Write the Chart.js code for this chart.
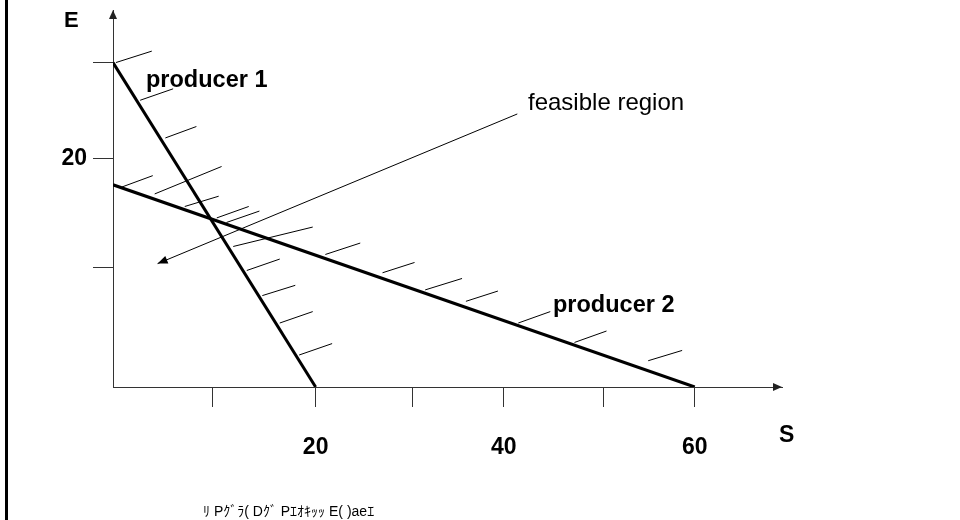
<!DOCTYPE html>
<html>
<head>
<meta charset="utf-8">
<script src="https://cdn.jsdelivr.net/npm/chart.js@4.4.0/dist/chart.umd.min.js"></script>
<style>
  html, body { margin: 0; padding: 0; background: #fff; }
  #wrap { position: relative; width: 960px; height: 520px; }
  #wrap::before { content: ""; position: absolute; left: 5px; top: 0; width: 3px; height: 520px; background: #000; }
</style>
</head>
<body>
<div id="wrap"><canvas id="myChart"></canvas></div>
<script>
// axis ticks (S horizontal, E vertical)
const xTickValues = [10.3, 20.9, 30.9, 40.3, 50.6, 60];
const xTickLabels = ["", "20", "", "40", "", "60"];
const yTickValues = [10.5, 20, 28.4];
const yTickLabels = ["", "20", ""];

// constraint lines [S, E]
const producer1 = [[0, 28.4], [20.9, 0]];
const producer2 = [[0, 17.7], [60, 0]];

// hatch marks on the infeasible side of each line
const hatch1 = [
  [[0.3, 28.4], [4.0, 29.4]],
  [[2.8, 25.1], [6.2, 26.1]],
  [[5.4, 21.8], [8.6, 22.8]],
  [[11.7, 14.4], [15.1, 15.4]],
  [[12.4, 12.3], [20.6, 14.0]],
  [[13.8, 10.2], [17.2, 11.2]],
  [[15.4, 8.0], [18.8, 8.9]],
  [[17.2, 5.6], [20.6, 6.6]],
  [[19.2, 2.8], [22.6, 3.8]]
];
const hatch2 = [
  [[0.9, 17.5], [4.1, 18.5]],
  [[4.3, 16.9], [11.2, 19.3]],
  [[7.4, 15.8], [10.9, 16.7]],
  [[10.7, 14.8], [14.0, 15.8]],
  [[21.9, 11.6], [25.5, 12.6]],
  [[27.8, 10.0], [31.1, 10.9]],
  [[32.2, 8.5], [36.0, 9.5]],
  [[36.4, 7.5], [39.7, 8.4]],
  [[41.8, 5.6], [45.1, 6.6]],
  [[47.6, 3.9], [50.9, 4.9]],
  [[55.2, 2.3], [58.7, 3.2]]
];

// pointer from the "feasible region" label
const feasibleArrow = [[41.7, 23.9], [4.6, 10.8]];

const FONT = "'Liberation Sans', Arial, sans-serif";
const toPts = arr => arr.map(p => ({ x: p[0], y: p[1] }));

function lineSet(points, width) {
  return {
    data: toPts(points),
    showLine: true,
    borderColor: "#000",
    borderWidth: width,
    pointRadius: 0,
    fill: false
  };
}

const datasets = [];
hatch1.concat(hatch2).forEach(h => datasets.push(lineSet(h, 1)));
datasets.push(lineSet(feasibleArrow, 1));
datasets.push(lineSet(producer1, 3));
datasets.push(lineSet(producer2, 3));

function arrowHead(ctx, tipX, tipY, fromX, fromY, len, half) {
  const a = Math.atan2(tipY - fromY, tipX - fromX);
  ctx.beginPath();
  ctx.moveTo(tipX, tipY);
  ctx.lineTo(tipX - len * Math.cos(a) + half * Math.sin(a), tipY - len * Math.sin(a) - half * Math.cos(a));
  ctx.lineTo(tipX - len * Math.cos(a) - half * Math.sin(a), tipY - len * Math.sin(a) + half * Math.cos(a));
  ctx.closePath();
  ctx.fill();
}

const annotations = {
  id: "annotations",
  afterDraw(chart) {
    const ctx = chart.ctx;
    const xs = chart.scales.x, ys = chart.scales.y;
    const area = chart.chartArea;
    ctx.save();
    // axis arrows
    ctx.fillStyle = "#222";
    arrowHead(ctx, area.left, area.top, area.left, area.top + 20, 9, 4);
    arrowHead(ctx, area.right, area.bottom, area.right - 20, area.bottom, 9, 4);
    // feasible region pointer
    ctx.fillStyle = "#000";
    const a0 = feasibleArrow[0], a1 = feasibleArrow[1];
    arrowHead(ctx, xs.getPixelForValue(a1[0]), ys.getPixelForValue(a1[1]),
      xs.getPixelForValue(a0[0]), ys.getPixelForValue(a0[1]), 10, 4);

    ctx.fillStyle = "#000";
    ctx.textBaseline = "alphabetic";
    ctx.textAlign = "left";
    ctx.font = "bold 22px " + FONT;
    ctx.fillText("E", 64, 27);
    ctx.font = "bold 23px " + FONT;
    ctx.fillText("S", 779, 442);
    ctx.font = "bold 23.5px " + FONT;
    ctx.fillText("producer 1", 146, 87);
    ctx.fillText("producer 2", 553, 312);
    ctx.font = "24px " + FONT;
    ctx.fillText("feasible region", 528, 110);
    ctx.font = "14px " + FONT + ", 'Noto Sans CJK JP'";
    ctx.fillText("ﾘ Pｸﾞﾗ( Dｸﾞ Pｴｵｷｯｯ E( )aeｴ", 203, 516);
    ctx.restore();
  }
};

new Chart(document.getElementById("myChart"), {
  type: "scatter",
  data: { datasets: datasets },
  options: {
    responsive: true,
    maintainAspectRatio: false,
    animation: false,
    layout: { padding: { left: 0, top: 10, right: 178, bottom: 0 } },
    plugins: { legend: { display: false }, tooltip: { enabled: false } },
    scales: {
      x: {
        type: "linear",
        min: 0,
        max: 69,
        afterBuildTicks: s => { s.ticks = xTickValues.map(v => ({ value: v })); },
        afterFit: s => { s.height = 133; s.paddingLeft = 0; s.paddingRight = 0; },
        border: { color: "#333", width: 1 },
        grid: { drawOnChartArea: false, tickLength: 20, tickColor: "#333", tickWidth: 1 },
        ticks: {
          autoSkip: false,
          maxRotation: 0,
          padding: 27,
          color: "#000",
          font: { family: FONT, size: 23, weight: "bold" },
          callback: v => xTickLabels[xTickValues.indexOf(v)]
        }
      },
      y: {
        type: "linear",
        min: 0,
        max: 33,
        afterBuildTicks: s => { s.ticks = yTickValues.map(v => ({ value: v })); },
        afterFit: s => { s.width = 113; s.paddingTop = 0; s.paddingBottom = 0; },
        border: { color: "#333", width: 1 },
        grid: { drawOnChartArea: false, tickLength: 20, tickColor: "#333", tickWidth: 1 },
        ticks: {
          autoSkip: false,
          padding: 6,
          color: "#000",
          font: { family: FONT, size: 23, weight: "bold" },
          callback: v => yTickLabels[yTickValues.indexOf(v)]
        }
      }
    }
  },
  plugins: [annotations]
});
</script>
</body>
</html>
